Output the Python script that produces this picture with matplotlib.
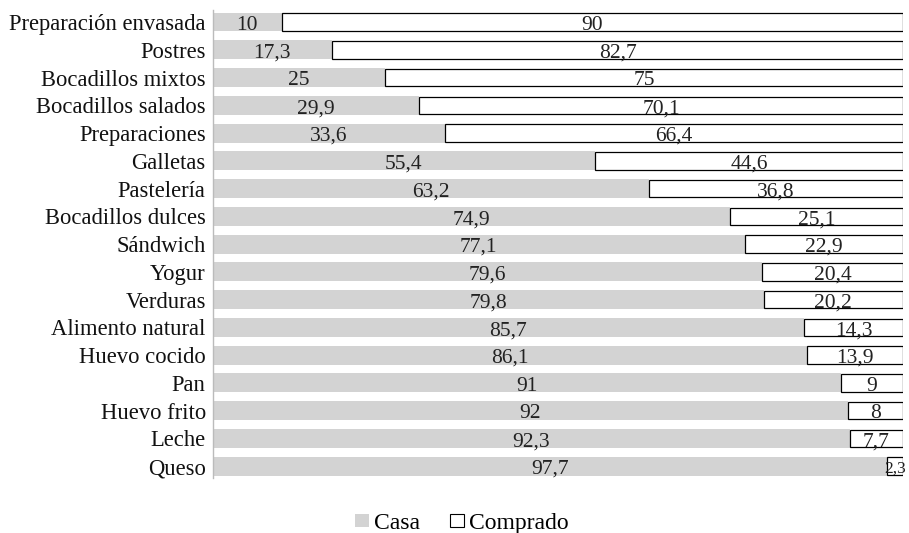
import matplotlib
matplotlib.use("Agg")
import matplotlib.pyplot as plt
from matplotlib.patches import Patch

plt.rcParams['font.family'] = ['Liberation Serif', 'DejaVu Serif']

categories = ["Preparación envasada", "Postres", "Bocadillos mixtos", "Bocadillos salados",
              "Preparaciones", "Galletas", "Pastelería", "Bocadillos dulces", "Sándwich",
              "Yogur", "Verduras", "Alimento natural", "Huevo cocido", "Pan",
              "Huevo frito", "Leche", "Queso"]
casa = [10, 17.3, 25, 29.9, 33.6, 55.4, 63.2, 74.9, 77.1, 79.6, 79.8, 85.7, 86.1, 91, 92, 92.3, 97.7]
comprado = [90, 82.7, 75, 70.1, 66.4, 44.6, 36.8, 25.1, 22.9, 20.4, 20.2, 14.3, 13.9, 9, 8, 7.7, 2.3]

def fmt(v):
    s = f"{v:g}"
    return s.replace(".", ",")

fig = plt.figure(figsize=(9.09, 5.33), dpi=100)
ax = fig.add_axes([0.234, 0.103, 0.7594, 0.878])

y = list(range(len(categories)))
gray = "#d3d3d3"
h = 0.68
ax.barh(y, casa, height=h, color=gray, edgecolor="none")
ax.barh(y, comprado, left=casa, height=h * 0.93, color="white", edgecolor="black", linewidth=0.9)

for yi, a, b in zip(y, casa, comprado):
    ax.text(a / 2, yi + 0.03, fmt(a), ha="center", va="center_baseline", fontsize=15.5, color="#222222")
    small = b < 3
    ax.text(a + b / 2, yi + 0.03, fmt(b), ha="center", va="center_baseline",
            fontsize=12.5 if small else 15.5, color="#222222")

ax.set_xlim(0, 100)
ax.set_ylim(len(categories) - 1 + 0.43, -0.43)
ax.set_yticks(y)
ax.set_yticklabels(categories, fontsize=16.3, color="#111111")
ax.tick_params(axis="y", length=0, pad=5)
ax.set_xticks([])
for s in ["top", "right", "bottom"]:
    ax.spines[s].set_visible(False)
ax.spines["left"].set_color("#bbbbbb")
ax.spines["left"].set_linewidth(1.0)

handles = [Patch(facecolor=gray, edgecolor="none", label="Casa"),
           Patch(facecolor="white", edgecolor="black", linewidth=0.8, label="Comprado")]
fig.legend(handles=handles, loc="center", bbox_to_anchor=(0.508, 0.018), ncol=2, frameon=False,
           fontsize=17, handlelength=0.6, handleheight=0.45, handletextpad=0.2, columnspacing=1.3)

fig.savefig("out.png", dpi=100)
